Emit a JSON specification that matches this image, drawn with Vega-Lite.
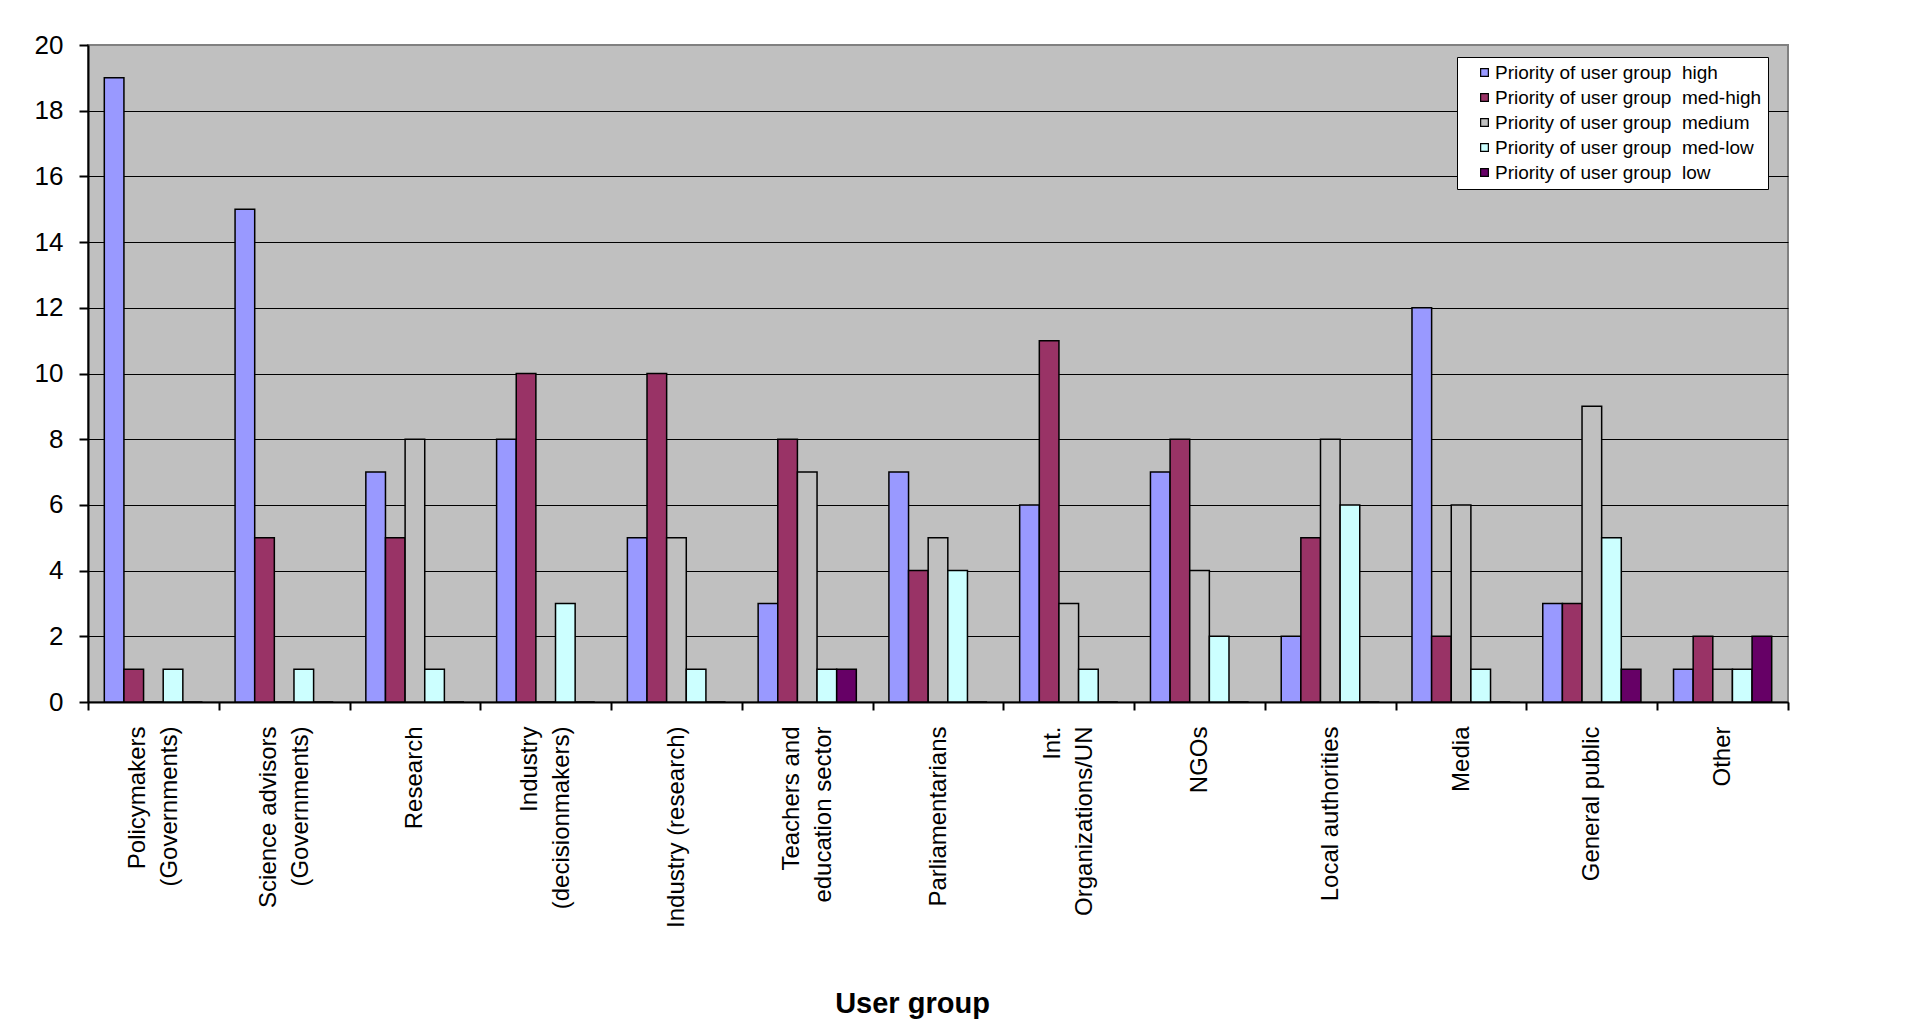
{
  "$schema": "https://vega.github.io/schema/vega-lite/v6.json",
  "width": 1700,
  "height": 657,
  "autosize": {"type": "none"},
  "padding": {"left": 88, "top": 45, "right": 123, "bottom": 320},
  "background": "white",
  "config": {
    "font": "Liberation Sans",
    "view": {"fill": "#C0C0C0", "stroke": "#808080", "strokeWidth": 2}
  },
  "data": {
    "values": [
      {"group": "Policymakers\n(Governments)", "priority": "high", "count": 19},
      {"group": "Policymakers\n(Governments)", "priority": "med-high", "count": 1},
      {"group": "Policymakers\n(Governments)", "priority": "medium", "count": 0},
      {"group": "Policymakers\n(Governments)", "priority": "med-low", "count": 1},
      {"group": "Policymakers\n(Governments)", "priority": "low", "count": 0},
      {"group": "Science advisors\n(Governments)", "priority": "high", "count": 15},
      {"group": "Science advisors\n(Governments)", "priority": "med-high", "count": 5},
      {"group": "Science advisors\n(Governments)", "priority": "medium", "count": 0},
      {"group": "Science advisors\n(Governments)", "priority": "med-low", "count": 1},
      {"group": "Science advisors\n(Governments)", "priority": "low", "count": 0},
      {"group": "Research", "priority": "high", "count": 7},
      {"group": "Research", "priority": "med-high", "count": 5},
      {"group": "Research", "priority": "medium", "count": 8},
      {"group": "Research", "priority": "med-low", "count": 1},
      {"group": "Research", "priority": "low", "count": 0},
      {"group": "Industry\n(decisionmakers)", "priority": "high", "count": 8},
      {"group": "Industry\n(decisionmakers)", "priority": "med-high", "count": 10},
      {"group": "Industry\n(decisionmakers)", "priority": "medium", "count": 0},
      {"group": "Industry\n(decisionmakers)", "priority": "med-low", "count": 3},
      {"group": "Industry\n(decisionmakers)", "priority": "low", "count": 0},
      {"group": "Industry (research)", "priority": "high", "count": 5},
      {"group": "Industry (research)", "priority": "med-high", "count": 10},
      {"group": "Industry (research)", "priority": "medium", "count": 5},
      {"group": "Industry (research)", "priority": "med-low", "count": 1},
      {"group": "Industry (research)", "priority": "low", "count": 0},
      {"group": "Teachers and\neducation sector", "priority": "high", "count": 3},
      {"group": "Teachers and\neducation sector", "priority": "med-high", "count": 8},
      {"group": "Teachers and\neducation sector", "priority": "medium", "count": 7},
      {"group": "Teachers and\neducation sector", "priority": "med-low", "count": 1},
      {"group": "Teachers and\neducation sector", "priority": "low", "count": 1},
      {"group": "Parliamentarians", "priority": "high", "count": 7},
      {"group": "Parliamentarians", "priority": "med-high", "count": 4},
      {"group": "Parliamentarians", "priority": "medium", "count": 5},
      {"group": "Parliamentarians", "priority": "med-low", "count": 4},
      {"group": "Parliamentarians", "priority": "low", "count": 0},
      {"group": "Int.\nOrganizations/UN", "priority": "high", "count": 6},
      {"group": "Int.\nOrganizations/UN", "priority": "med-high", "count": 11},
      {"group": "Int.\nOrganizations/UN", "priority": "medium", "count": 3},
      {"group": "Int.\nOrganizations/UN", "priority": "med-low", "count": 1},
      {"group": "Int.\nOrganizations/UN", "priority": "low", "count": 0},
      {"group": "NGOs", "priority": "high", "count": 7},
      {"group": "NGOs", "priority": "med-high", "count": 8},
      {"group": "NGOs", "priority": "medium", "count": 4},
      {"group": "NGOs", "priority": "med-low", "count": 2},
      {"group": "NGOs", "priority": "low", "count": 0},
      {"group": "Local authorities", "priority": "high", "count": 2},
      {"group": "Local authorities", "priority": "med-high", "count": 5},
      {"group": "Local authorities", "priority": "medium", "count": 8},
      {"group": "Local authorities", "priority": "med-low", "count": 6},
      {"group": "Local authorities", "priority": "low", "count": 0},
      {"group": "Media", "priority": "high", "count": 12},
      {"group": "Media", "priority": "med-high", "count": 2},
      {"group": "Media", "priority": "medium", "count": 6},
      {"group": "Media", "priority": "med-low", "count": 1},
      {"group": "Media", "priority": "low", "count": 0},
      {"group": "General public", "priority": "high", "count": 3},
      {"group": "General public", "priority": "med-high", "count": 3},
      {"group": "General public", "priority": "medium", "count": 9},
      {"group": "General public", "priority": "med-low", "count": 5},
      {"group": "General public", "priority": "low", "count": 1},
      {"group": "Other", "priority": "high", "count": 1},
      {"group": "Other", "priority": "med-high", "count": 2},
      {"group": "Other", "priority": "medium", "count": 1},
      {"group": "Other", "priority": "med-low", "count": 1},
      {"group": "Other", "priority": "low", "count": 2}
    ]
  },
  "mark": {"type": "bar", "stroke": "black", "strokeWidth": 1.5},
  "encoding": {
    "x": {
      "field": "group",
      "type": "nominal",
      "sort": null,
      "scale": {"paddingInner": 0, "paddingOuter": 0},
      "axis": {
        "tickBand": "extent",
        "ticks": true,
        "tickSize": 8,
        "tickColor": "black",
        "tickWidth": 2,
        "domainColor": "black",
        "domainWidth": 2,
        "grid": false,
        "labelAngle": -90,
        "labelAlign": "right",
        "labelBaseline": "middle",
        "labelFontSize": 24,
        "labelLineHeight": 32,
        "labelPadding": 16,
        "labelLimit": 0,
        "labelColor": "black",
        "labelOffset": {"condition": {"test": "isString(datum.value) && indexof(datum.value, '\\n') >= 0", "value": -16}, "value": 0},
        "labelExpr": "split(datum.label, '\\n')",
        "title": "User group",
        "titleFontSize": 29,
        "titleFontWeight": "bold",
        "titleColor": "black",
        "titleX": 824,
        "titleY": 310,
        "titleAlign": "center",
        "titleBaseline": "alphabetic"
      }
    },
    "xOffset": {
      "field": "priority",
      "type": "nominal",
      "sort": ["high", "med-high", "medium", "med-low", "low"],
      "scale": {"paddingInner": 0, "paddingOuter": 0.83}
    },
    "y": {
      "field": "count",
      "type": "quantitative",
      "scale": {"domain": [0, 20], "nice": false},
      "axis": {
        "values": [0, 2, 4, 6, 8, 10, 12, 14, 16, 18, 20],
        "grid": true,
        "gridColor": {"condition": {"test": "datum.value === 20", "value": "#808080"}, "value": "black"},
        "gridWidth": 1.2,
        "gridOpacity": 1,
        "tickSize": 9,
        "tickColor": "black",
        "tickWidth": 2,
        "domainColor": "black",
        "domainWidth": 2,
        "labelFontSize": 26,
        "labelPadding": 16,
        "labelColor": "black",
        "title": null
      }
    },
    "color": {
      "field": "priority",
      "type": "nominal",
      "sort": ["high", "med-high", "medium", "med-low", "low"],
      "scale": {
        "domain": ["high", "med-high", "medium", "med-low", "low"],
        "range": ["#9999FF", "#993366", "#C0C0C0", "#CCFFFF", "#660066"]
      },
      "legend": {
        "orient": "none",
        "legendX": 1369,
        "legendY": 12,
        "title": null,
        "fillColor": "white",
        "strokeColor": "black",
        "padding": 6,
        "symbolType": "square",
        "symbolSize": 60,
        "symbolStrokeColor": "black",
        "symbolStrokeWidth": 1.2,
        "symbolOpacity": 1,
        "symbolOffset": 12,
        "labelFontSize": 19,
        "labelColor": "black",
        "labelOffset": 1,
        "rowPadding": 5,
        "labelLimit": 400,
        "labelExpr": "'Priority of user group\u00a0 ' + datum.label"
      }
    }
  }
}
